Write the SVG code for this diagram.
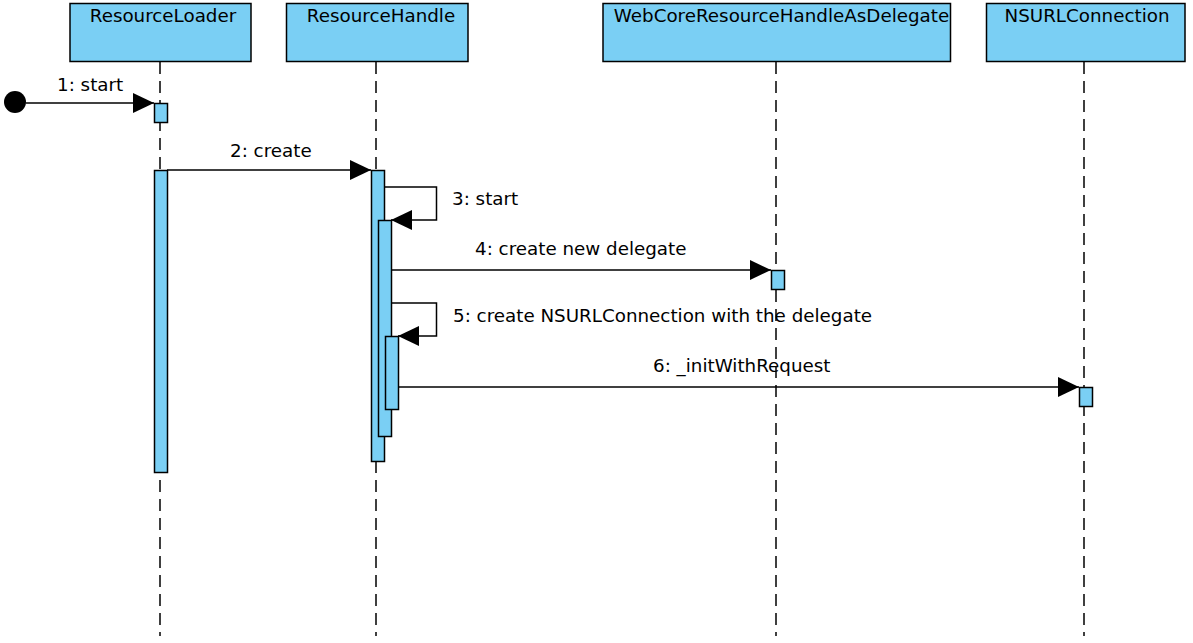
<svg xmlns="http://www.w3.org/2000/svg" width="1193" height="643" viewBox="0 0 1193 643">
<defs>
<style>
.head{fill:#7acff4;stroke:#000;stroke-width:1.5}
.act{fill:#7acff4;stroke:#000;stroke-width:1.5}
.life{stroke:#000;stroke-width:1.5;stroke-dasharray:12 7;fill:none}
.msg{stroke:#000;stroke-width:1.5;fill:none}
.t{font-family:"DejaVu Sans",sans-serif;font-size:18.3px;fill:#000}
</style>
<marker id="ah" markerWidth="21" markerHeight="20" refX="21" refY="10" orient="auto" markerUnits="userSpaceOnUse">
<path d="M0,0 L21,10 L0,20 Z" fill="#000"/>
</marker>
</defs>
<rect width="1193" height="643" fill="#fff"/>
<g id="labels">
<text class="t" x="57" y="91">1: start</text>
<text class="t" x="230" y="157">2: create</text>
<text class="t" x="452" y="205">3: start</text>
<text class="t" x="475" y="255">4: create new delegate</text>
<text class="t" x="453" y="322">5: create NSURLConnection with the delegate</text>
<text class="t" x="653" y="372">6: _initWithRequest</text>
</g>
<g id="lifelines">
<line class="life" x1="160" y1="62" x2="160" y2="636"/>
<line class="life" x1="376" y1="62" x2="376" y2="636"/>
<line class="life" x1="776" y1="62" x2="776" y2="636"/>
<line class="life" x1="1084" y1="62" x2="1084" y2="636"/>
</g>
<g id="ResourceLoader">
<rect class="head" x="70" y="3.5" width="181" height="58"/>
<text class="t" x="163" y="22" text-anchor="middle">ResourceLoader</text>
</g>
<g id="ResourceHandle">
<rect class="head" x="286.5" y="3.5" width="181.5" height="58"/>
<text class="t" x="381" y="22" text-anchor="middle">ResourceHandle</text>
</g>
<g id="WebCoreResourceHandleAsDelegate">
<rect class="head" x="603" y="3.5" width="347.5" height="58"/>
<text class="t" x="781.5" y="22" text-anchor="middle">WebCoreResourceHandleAsDelegate</text>
</g>
<g id="NSURLConnection">
<rect class="head" x="986.5" y="3.5" width="198.5" height="58"/>
<text class="t" x="1087" y="22" text-anchor="middle">NSURLConnection</text>
</g>
<g id="activations">
<rect class="act" x="154.5" y="103.5" width="13" height="19"/>
<rect class="act" x="154.5" y="170.5" width="13" height="302"/>
<rect class="act" x="371.5" y="170.5" width="13" height="291"/>
<rect class="act" x="378.5" y="220.5" width="13" height="216"/>
<rect class="act" x="385.5" y="336.5" width="13" height="73"/>
<rect class="act" x="771.5" y="270.5" width="13" height="19"/>
<rect class="act" x="1079.5" y="387.5" width="13" height="19"/>
</g>
<g id="connectors">
<circle cx="15" cy="102" r="11" fill="#000"/>
<line class="msg" x1="26" y1="103" x2="154" y2="103" marker-end="url(#ah)"/>
<line class="msg" x1="167" y1="170" x2="371" y2="170" marker-end="url(#ah)"/>
<polyline class="msg" points="385,187 436.5,187 436.5,220 391,220" marker-end="url(#ah)"/>
<line class="msg" x1="391" y1="270" x2="771" y2="270" marker-end="url(#ah)"/>
<polyline class="msg" points="391,303 436.5,303 436.5,336 398,336" marker-end="url(#ah)"/>
<line class="msg" x1="398" y1="387" x2="1079" y2="387" marker-end="url(#ah)"/>
</g>
</svg>
